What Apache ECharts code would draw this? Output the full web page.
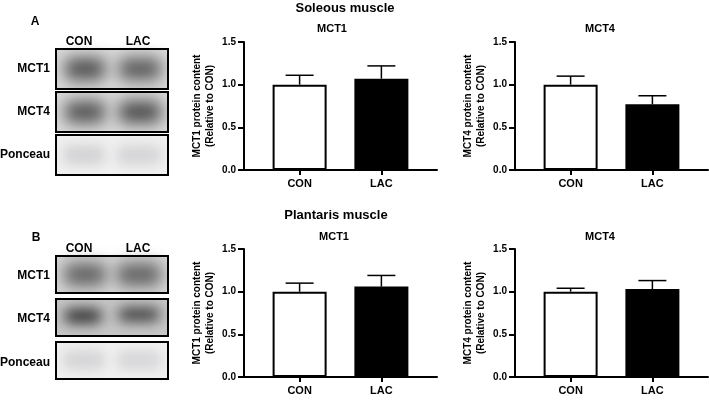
<!DOCTYPE html>
<html>
<head>
<meta charset="utf-8">
<script src="https://cdn.jsdelivr.net/npm/echarts@6/dist/echarts.min.js"></script>
<style>
  html, body { margin: 0; padding: 0; background: #fff; }
  #chart { width: 709px; height: 400px; }
</style>
</head>
<body>
<div id="chart"></div>
<script>
// groups
var categories = ['CON', 'LAC'];
var yTicks = [0, 0.5, 1.0, 1.5];

// means (relative to CON) and SEM
var soleusMct1 = [1.00, 1.07];
var soleusMct1Err = [0.11, 0.15];
var soleusMct4 = [1.00, 0.77];
var soleusMct4Err = [0.10, 0.10];
var plantarisMct1 = [1.00, 1.06];
var plantarisMct1Err = [0.10, 0.13];
var plantarisMct4 = [1.00, 1.03];
var plantarisMct4Err = [0.04, 0.10];

var barColors = ['#ffffff', '#000000'];
var FONT = 'Liberation Sans, Arial, Helvetica, sans-serif';

var myChart = echarts.init(document.getElementById('chart'));

// 4 panels
var panels = [
    { left: 244, top: 42, mean: soleusMct1, err: soleusMct1Err, name: 'MCT1' },
    { left: 515, top: 42, mean: soleusMct4, err: soleusMct4Err, name: 'MCT4' },
    { left: 244, top: 249, mean: plantarisMct1, err: plantarisMct1Err, name: 'MCT1' },
    { left: 515, top: 249, mean: plantarisMct4, err: plantarisMct4Err, name: 'MCT4' }
];

var grid = [], xAxis = [], yAxis = [], series = [];

panels.forEach(function (p, i) {
    grid.push({ left: p.left, top: p.top, width: 193, height: 128 });
    xAxis.push({
        type: 'value',
        gridIndex: i,
        min: -0.68,
        max: 1.68,
        splitLine: { show: false },
        axisLine: { show: true, onZero: false, lineStyle: { color: '#000', width: 2 } },
        axisTick: { show: true, customValues: [0, 1], length: 5, lineStyle: { color: '#000', width: 2 } },
        axisLabel: {
            customValues: [0, 1],
            margin: 8,
            color: '#000',
            fontFamily: FONT,
            fontWeight: 'bold',
            fontSize: 11,
            formatter: function (v) { return categories[Math.round(v)]; }
        }
    });
    yAxis.push({
        type: 'value',
        gridIndex: i,
        min: yTicks[0],
        max: yTicks[yTicks.length - 1],
        interval: 0.5,
        name: p.name + ' protein content\n(Relative to CON)',
        nameLocation: 'middle',
        nameRotate: 90,
        nameGap: 27,
        nameTextStyle: { color: '#000', fontFamily: FONT, fontWeight: 'bold', fontSize: 10, lineHeight: 13 },
        splitLine: { show: false },
        axisLine: { show: true, onZero: false, lineStyle: { color: '#000', width: 2 } },
        axisTick: { show: true, length: 6, lineStyle: { color: '#000', width: 2 } },
        axisLabel: {
            margin: 8,
            color: '#000',
            fontFamily: FONT,
            fontWeight: 'bold',
            fontSize: 10,
            formatter: function (v) { return v.toFixed(1); }
        }
    });
    series.push({
        type: 'bar',
        xAxisIndex: i,
        yAxisIndex: i,
        barWidth: 54,
        silent: true,
        data: p.mean.map(function (v, k) {
            return { value: [k, v], itemStyle: { color: barColors[k] } };
        }),
        itemStyle: { borderColor: '#000', borderWidth: 2 }
    });
    // error bars (mean -> mean + SEM, capped)
    series.push({
        type: 'custom',
        xAxisIndex: i,
        yAxisIndex: i,
        silent: true,
        z: 3,
        data: p.mean.map(function (v, k) { return [k, v, p.err[k]]; }),
        encode: { x: 0, y: 1 },
        renderItem: function (params, api) {
            var x = api.value(0);
            var base = api.coord([x, api.value(1)]);
            var top = api.coord([x, api.value(1) + api.value(2)]);
            var half = 14;
            return {
                type: 'group',
                children: [
                    { type: 'line', shape: { x1: base[0], y1: base[1], x2: top[0], y2: top[1] },
                      style: { stroke: '#000', lineWidth: 1.5 } },
                    { type: 'line', shape: { x1: top[0] - half, y1: top[1], x2: top[0] + half, y2: top[1] },
                      style: { stroke: '#000', lineWidth: 1.5 } }
                ]
            };
        }
    });
});

// ---- text labels and western blot pictures ----
function label(txt, x, y, size, align) {
    return {
        type: 'text', x: x, y: y, silent: true, z: 20,
        style: { text: txt, fill: '#000', font: 'bold ' + size + 'px ' + FONT,
                 align: align || 'center', verticalAlign: 'middle' }
    };
}
// blurred band: shape sits off canvas, only its shadow shows
function band(x, y, w, h, color, blur) {
    return {
        type: 'rect', silent: true,
        shape: { x: x - 1000, y: y, width: w, height: h, r: 6 },
        style: { fill: color, shadowColor: color, shadowBlur: blur, shadowOffsetX: 1000, shadowOffsetY: 0 }
    };
}
function box(y, h, bg) {
    return { type: 'rect', silent: true, shape: { x: 56, y: y, width: 112, height: h }, style: { fill: bg } };
}
function border(y, h) {
    return { type: 'rect', silent: true, z: 10, shape: { x: 56, y: y, width: 112, height: h },
             style: { fill: 'none', stroke: '#000', lineWidth: 2 } };
}
// white cover so blur does not spill outside the blot frames
function mask(x, y, w, h) {
    return { type: 'rect', silent: true, z: 5, shape: { x: x, y: y, width: w, height: h }, style: { fill: '#fff' } };
}

var graphic = [
    label('Soleous muscle', 345, 8, 13),
    label('MCT1', 332, 29, 11),
    label('MCT4', 600, 29, 11),
    label('Plantaris muscle', 336, 215, 13),
    label('MCT1', 334, 237, 11),
    label('MCT4', 600, 237, 11),

    // panel A
    label('A', 35, 22, 12),
    label('CON', 79, 42, 12),
    label('LAC', 138, 42, 12),
    label('MCT1', 50, 69, 12, 'right'),
    label('MCT4', 50, 112, 12, 'right'),
    label('Ponceau', 50, 155, 12, 'right'),
    box(49, 40, '#dadada'),
    band(65, 58, 40, 22, '#525252', 16),
    band(119, 58, 42, 22, '#5c5c5c', 16),
    box(92, 40, '#dadada'),
    band(65, 101, 40, 22, '#555555', 16),
    band(119, 101, 42, 22, '#4e4e4e', 16),
    box(135, 40, '#f0f0f0'),
    band(63, 145, 42, 20, '#d4d4d6', 12),
    band(117, 145, 44, 20, '#d6d6d8', 12),
    mask(36, 47, 19, 130), mask(169, 47, 14, 130),
    mask(56, 90, 112, 1), mask(56, 133, 112, 1),
    border(49, 40), border(92, 40), border(135, 40),

    // panel B
    label('B', 36, 238, 12),
    label('CON', 79, 249, 12),
    label('LAC', 138, 249, 12),
    label('MCT1', 50, 276, 12, 'right'),
    label('MCT4', 50, 319, 12, 'right'),
    label('Ponceau', 50, 363, 12, 'right'),
    box(256, 37, '#d8d8d8'),
    band(64, 263, 42, 23, '#646464', 16),
    band(117, 263, 44, 23, '#646464', 16),
    box(299, 37, '#c8c8c8'),
    band(64, 309, 38, 14, '#2a2a2a', 14),
    band(118, 308, 42, 13, '#353535', 14),
    box(342, 37, '#f0f0f0'),
    band(63, 350, 42, 20, '#d6d6d8', 12),
    band(117, 350, 44, 20, '#d8d8da', 12),
    mask(36, 254, 19, 128), mask(169, 254, 14, 128),
    mask(56, 294, 112, 4), mask(56, 337, 112, 4),
    border(256, 37), border(299, 37), border(342, 37)
];

var option = {
    backgroundColor: '#fff',
    animation: false,
    grid: grid,
    xAxis: xAxis,
    yAxis: yAxis,
    series: series,
    graphic: graphic
};
myChart.setOption(option);
</script>
</body>
</html>
